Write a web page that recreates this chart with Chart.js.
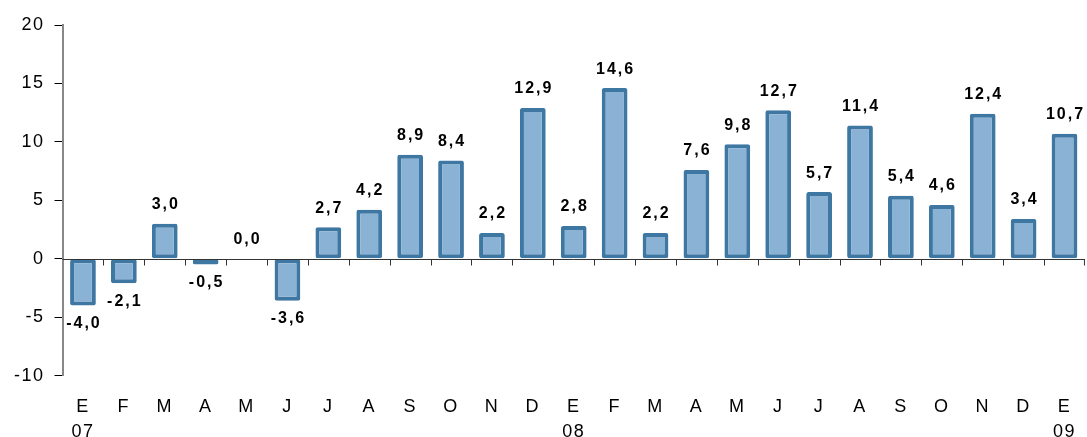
<!DOCTYPE html>
<html>
<head>
<meta charset="utf-8">
<script src="https://cdn.jsdelivr.net/npm/chart.js@4"></script>
<style>
  html, body { margin: 0; padding: 0; background: #fff; }
  #wrap { width: 1087px; height: 437px; }
</style>
</head>
<body>
<div id="wrap"><canvas id="chart"></canvas></div>
<script>
// month initials and year row
const months = ["E","F","M","A","M","J","J","A","S","O","N","D","E","F","M","A","M","J","J","A","S","O","N","D","E"]
const years = ["07","","","","","","","","","","","","08","","","","","","","","","","","","09"]
const values = [-4.0,-2.1,3.0,-0.5,0.0,-3.6,2.7,4.2,8.9,8.4,2.2,12.9,2.8,14.6,2.2,7.6,9.8,12.7,5.7,11.4,5.4,4.6,12.4,3.4,10.7]
const yTicks = [-10,-5,0,5,10,15,20]

const labels = months.map((m, i) => [m, years[i]])
const FONT = "'Liberation Sans', Arial, sans-serif"

// wider letter spacing like the original
const spacing = {
  id: "spacing",
  beforeLayout(chart) { chart.ctx.letterSpacing = "1.5px" },
  beforeDraw(chart) { chart.ctx.letterSpacing = "1.5px" }
}

// zero line, small ticks between categories, value labels
const zeroAxis = {
  id: "zeroAxis",
  afterDatasetsDraw(chart) {
    const { ctx, chartArea, scales } = chart
    const y0 = Math.round(scales.y.getPixelForValue(0)) + 0.5
    ctx.save()
    ctx.strokeStyle = "#333"
    ctx.lineWidth = 1
    ctx.beginPath()
    ctx.moveTo(chartArea.left, y0)
    ctx.lineTo(chartArea.right, y0)
    for (let i = 1; i < values.length; i++) {
      const x = Math.round((scales.x.getPixelForValue(i - 1) + scales.x.getPixelForValue(i)) / 2) + 0.5
      ctx.moveTo(x, y0)
      ctx.lineTo(x, y0 + 6)
    }
    ctx.moveTo(chartArea.right - 0.5, y0)
    ctx.lineTo(chartArea.right - 0.5, y0 + 6)
    ctx.stroke()

    ctx.fillStyle = "#000"
    ctx.font = "bold 16px " + FONT
    ctx.letterSpacing = "2px"
    ctx.textAlign = "center"
    ctx.textBaseline = "middle"
    const meta = chart.getDatasetMeta(0)
    meta.data.forEach((bar, i) => {
      const v = values[i]
      const txt = v.toFixed(1).replace(".", ",")
      const y = v < 0 ? bar.y + 18 : bar.y - 19
      ctx.fillText(txt, bar.x + 1, y)
    })
    ctx.restore()
  }
}

new Chart(document.getElementById("chart"), {
  type: "bar",
  data: {
    labels: labels,
    datasets: [{
      data: values,
      backgroundColor: "#8AB2D4",
      borderColor: "#3E77A2",
      borderWidth: 4,
      borderRadius: 2,
      borderSkipped: false,
      barPercentage: 0.63,
      categoryPercentage: 1.0
    }]
  },
  options: {
    responsive: true,
    maintainAspectRatio: false,
    animation: false,
    layout: { padding: { top: 25, right: -14, left: 4, bottom: -19 } },
    plugins: {
      legend: { display: false },
      tooltip: { enabled: false }
    },
    scales: {
      x: {
        grid: { display: false },
        border: { display: false },
        ticks: {
          color: "#000",
          maxRotation: 0,
          autoSkip: false,
          padding: 11,
          font: { family: FONT, size: 18, lineHeight: 1.4 }
        }
      },
      y: {
        min: -10,
        max: 20,
        afterBuildTicks(scale) {
          scale.ticks = yTicks.map(v => ({ value: v }))
        },
        grid: { drawOnChartArea: false, tickLength: 8, color: "#000" },
        border: { display: true, color: "#888", width: 2 },
        ticks: {
          color: "#000",
          padding: 10,
          font: { family: FONT, size: 18 }
        }
      }
    }
  },
  plugins: [spacing, zeroAxis]
})
</script>
</body>
</html>
